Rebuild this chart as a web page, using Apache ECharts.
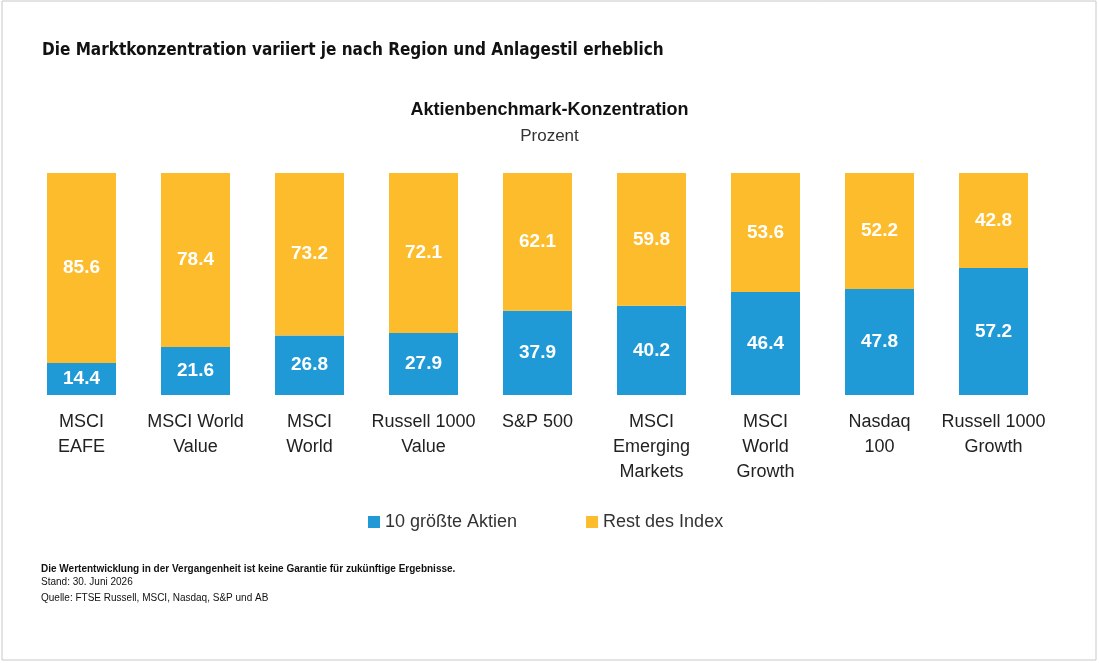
<!DOCTYPE html>
<html>
<head>
    <meta charset="utf-8">
    <title>Aktienbenchmark-Konzentration</title>
    <script src="https://cdn.jsdelivr.net/npm/echarts@6/dist/echarts.min.js"></script>
    <style>
        html, body { margin: 0; padding: 0; background: #fff; }
        #chart1 { width: 1099px; height: 663px; }
    </style>
</head>
<body>
<div id="chart1"></div>
<script type="text/javascript">
    // Kategorien und Werte (Prozent)
    var categories = ['MSCI\nEAFE', 'MSCI World\nValue', 'MSCI\nWorld', 'Russell 1000\nValue', 'S&P 500',
        'MSCI\nEmerging\nMarkets', 'MSCI\nWorld\nGrowth', 'Nasdaq\n100', 'Russell 1000\nGrowth'];
    var top10 = [14.4, 21.6, 26.8, 27.9, 37.9, 40.2, 46.4, 47.8, 57.2];
    var rest = [85.6, 78.4, 73.2, 72.1, 62.1, 59.8, 53.6, 52.2, 42.8];
    var seriesNames = ['10 größte Aktien', 'Rest des Index'];

    var blue = '#209ad6';
    var yellow = '#fcbc2b';

    var myChart1 = echarts.init(document.getElementById('chart1'));

    var labelStyle = {
        show: true,
        position: 'inside',
        color: '#fff',
        fontFamily: 'Liberation Sans',
        fontWeight: 'bold',
        fontSize: 19,
        formatter: function (p) { return p.value.toFixed(1); }
    };

    myChart1.setOption({
        animation: false,
        title: [
            {
                text: 'Die Marktkonzentration variiert je nach Region und Anlagestil erheblich',
                left: 37, top: 37,
                textStyle: { fontFamily: 'DejaVu Sans Condensed', fontWeight: 'bold', fontSize: 17, color: '#111' }
            },
            {
                text: 'Aktienbenchmark-Konzentration',
                subtext: 'Prozent',
                left: 'center', top: 96, itemGap: 9,
                textStyle: { fontFamily: 'Liberation Sans', fontWeight: 'bold', fontSize: 18, color: '#111' },
                subtextStyle: { fontFamily: 'Liberation Sans', fontSize: 17, color: '#333' }
            },
            {
                text: 'Die Wertentwicklung in der Vergangenheit ist keine Garantie für zukünftige Ergebnisse.',
                subtext: 'Stand: 30. Juni 2026\nQuelle: FTSE Russell, MSCI, Nasdaq, S&P und AB',
                left: 36, top: 559, itemGap: 0,
                textStyle: { fontFamily: 'Liberation Sans', fontWeight: 'bold', fontSize: 10, color: '#111' },
                subtextStyle: { fontFamily: 'Liberation Sans', fontSize: 10, color: '#111', lineHeight: 16 }
            }
        ],
        graphic: [{
            type: 'rect',
            shape: { x: 2, y: 1, width: 1094, height: 659 },
            style: { fill: 'none', stroke: '#c8c8c8', lineWidth: 1 },
            silent: true
        }],
        legend: {
            data: seriesNames,
            left: 363, top: 508,
            icon: 'rect', itemWidth: 12, itemHeight: 12, itemGap: 69,
            textStyle: { fontFamily: 'Liberation Sans', fontSize: 18, color: '#333' }
        },
        grid: { left: 24.5, right: 48.5, top: 173, bottom: 268 },
        xAxis: {
            type: 'category',
            data: categories,
            axisLine: { show: false },
            axisTick: { show: false },
            axisLabel: {
                margin: 15,
                interval: 0,
                fontFamily: 'Liberation Sans',
                fontSize: 18,
                lineHeight: 25,
                color: '#222'
            }
        },
        yAxis: { type: 'value', min: 0, max: 100, show: false },
        series: [
            {
                name: seriesNames[0], type: 'bar', stack: 'total',
                barWidth: 69, data: top10,
                itemStyle: { color: blue },
                label: labelStyle
            },
            {
                name: seriesNames[1], type: 'bar', stack: 'total',
                barWidth: 69, data: rest,
                itemStyle: { color: yellow },
                label: labelStyle
            }
        ]
    });
</script>
</body>
</html>
